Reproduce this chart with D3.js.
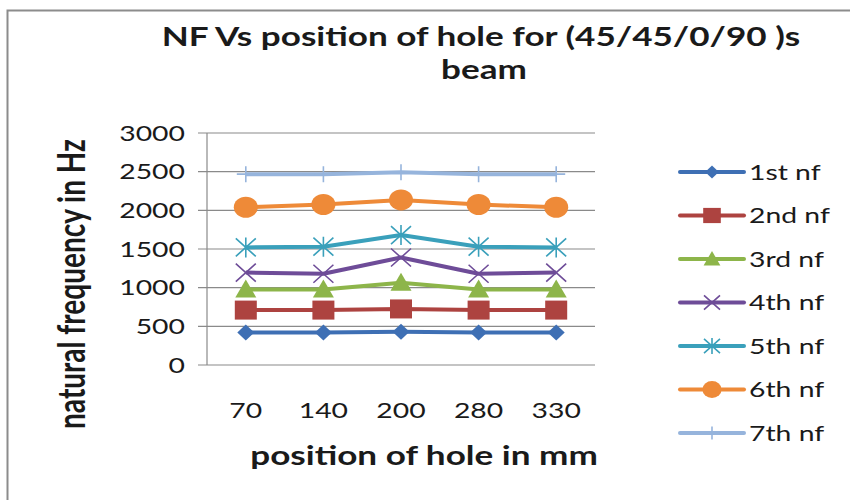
<!DOCTYPE html>
<html>
<head>
<meta charset="utf-8">
<script src="https://cdn.jsdelivr.net/npm/d3@7"></script>
<style>
  html, body { margin: 0; padding: 0; background: #fff; }
  svg { display: block; }
  text { font-family: Lato, "Open Sans", "Liberation Sans", sans-serif; fill: #1a1a1a; }
</style>
</head>
<body>
<svg id="chart" width="850" height="500"></svg>
<script>
// Hole positions along the beam (mm)
const positions = ["70", "140", "200", "280", "330"];

// Natural frequencies (Hz) per mode
const nf1 = [420, 420, 430, 420, 420];
const nf2 = [710, 710, 725, 710, 710];
const nf3 = [975, 975, 1065, 975, 975];
const nf4 = [1195, 1180, 1390, 1180, 1195];
const nf5 = [1520, 1530, 1680, 1530, 1520];
const nf6 = [2040, 2075, 2135, 2075, 2040];
const nf7 = [2468, 2468, 2492, 2468, 2468];

const seriesNames = ["1st nf", "2nd nf", "3rd nf", "4th nf", "5th nf", "6th nf", "7th nf"];
const seriesColors = ["#3e6fb4", "#ad4340", "#8db54a", "#6e4c98", "#3aa0bb", "#ee8a38", "#96b4dc"];
const seriesMarkers = ["diamond", "square", "triangle", "x", "star", "circle", "plus"];
const yTicks = [0, 500, 1000, 1500, 2000, 2500, 3000];

const series = [nf1, nf2, nf3, nf4, nf5, nf6, nf7].map((values, i) => ({
  name: seriesNames[i], color: seriesColors[i], marker: seriesMarkers[i], values
}));

// All text is drawn horizontally widened, like the rest of the chart
const SX = 1.35;

const svg = d3.select("#chart");

function label(parent, x, y, str, opts) {
  const o = opts || {};
  const t = parent.append("text")
    .attr("transform", `translate(${x},${y}) scale(${SX},1)` + (o.rotate ? ` rotate(${o.rotate})` : ""))
    .attr("text-anchor", o.anchor || "start")
    .attr("font-size", o.size || 21)
    .text(str);
  if (o.bold) t.attr("font-weight", "bold");
  if (o.dy) t.attr("dy", o.dy);
  return t;
}

// Outer chart frame
svg.append("rect")
  .attr("x", 7.5).attr("y", 10.5)
  .attr("width", 900).attr("height", 600)
  .attr("fill", "none").attr("stroke", "#8c8c8c").attr("stroke-width", 2);

const plot = { left: 207, right: 595, top: 133, bottom: 365 };

const x = d3.scaleBand().domain(positions).range([plot.left, plot.right]);
const y = d3.scaleLinear().domain([0, 3000]).range([plot.bottom, plot.top]);

// Horizontal gridlines with short outward ticks
svg.append("g")
  .selectAll("line")
  .data(yTicks)
  .join("line")
  .attr("x1", plot.left - 9).attr("x2", plot.right)
  .attr("y1", d => y(d)).attr("y2", d => y(d))
  .attr("stroke", "#8a8a8a").attr("stroke-width", 1.2);

// Vertical axis line
svg.append("line")
  .attr("x1", plot.left).attr("x2", plot.left)
  .attr("y1", plot.top).attr("y2", plot.bottom)
  .attr("stroke", "#8a8a8a").attr("stroke-width", 1.2);

// Y tick labels
const yLab = svg.append("g");
yTicks.forEach(d => label(yLab, 185, y(d), d, { anchor: "end", size: 21, dy: "0.36em" }));

// X tick labels
const xLab = svg.append("g");
positions.forEach(d => label(xLab, x(d) + x.bandwidth() / 2, 418, d, { anchor: "middle", size: 21 }));

// Titles
label(svg, 481, 46, "NF Vs position of hole for (45/45/0/90 )s", { anchor: "middle", size: 26, bold: true });
label(svg, 484, 79, "beam", { anchor: "middle", size: 26, bold: true });
label(svg, 424, 465, "position of hole in mm", { anchor: "middle", size: 26, bold: true });
label(svg, 85, 284, "natural frequency in Hz", { anchor: "middle", size: 28, bold: true, rotate: -90 });

// Marker drawing
function drawMarker(g, type, color, scale) {
  const s = scale || 1;
  switch (type) {
    case "diamond":
      g.append("path").attr("d", `M0,${-8*s}L${8.5*s},0L0,${8*s}L${-8.5*s},0Z`).attr("fill", color);
      break;
    case "square":
      g.append("rect").attr("x", -11*s).attr("y", -9.5*s).attr("width", 22*s).attr("height", 19*s).attr("fill", color);
      break;
    case "triangle":
      g.append("path").attr("d", `M0,${-10*s}L${10.5*s},${8*s}L${-10.5*s},${8*s}Z`).attr("fill", color);
      break;
    case "circle":
      g.append("ellipse").attr("rx", 12*s).attr("ry", 10.5*s).attr("fill", color);
      break;
    case "x":
      g.append("path").attr("d", `M${-10*s},${-9*s}L${10*s},${9*s}M${10*s},${-9*s}L${-10*s},${9*s}`)
        .attr("stroke", color).attr("stroke-width", 1.6).attr("fill", "none");
      break;
    case "star":
      g.append("path").attr("d", `M${-10*s},${-9*s}L${10*s},${9*s}M${10*s},${-9*s}L${-10*s},${9*s}M0,${-10*s}L0,${10*s}`)
        .attr("stroke", color).attr("stroke-width", 1.6).attr("fill", "none");
      break;
    case "plus":
      g.append("path").attr("d", `M0,${-8*s}L0,${8*s}M${-9*s},0L${9*s},0`)
        .attr("stroke", color).attr("stroke-width", 1.6).attr("fill", "none");
      break;
  }
}

const line = d3.line()
  .x((d, i) => x(positions[i]) + x.bandwidth() / 2)
  .y(d => y(d));

series.forEach(s => {
  const g = svg.append("g");
  g.append("path")
    .attr("d", line(s.values))
    .attr("fill", "none")
    .attr("stroke", s.color)
    .attr("stroke-width", 4)
    .attr("stroke-linejoin", "round");
  s.values.forEach((v, i) => {
    const m = g.append("g")
      .attr("transform", `translate(${x(positions[i]) + x.bandwidth() / 2},${y(v)})`);
    drawMarker(m, s.marker, s.color, 1);
  });
});

// Legend
const legend = svg.append("g");
series.forEach((s, i) => {
  const ly = 172 + i * 43.5;
  const row = legend.append("g").attr("transform", `translate(0,${ly})`);
  row.append("line")
    .attr("x1", 680).attr("x2", 744)
    .attr("y1", 0).attr("y2", 0)
    .attr("stroke", s.color).attr("stroke-width", 4)
    .attr("stroke-linecap", "round");
  const m = row.append("g").attr("transform", "translate(712,0)");
  drawMarker(m, s.marker, s.color, 0.8);
  label(row, 749, 0, s.name, { size: 21, dy: "0.36em" });
});
</script>
</body>
</html>
